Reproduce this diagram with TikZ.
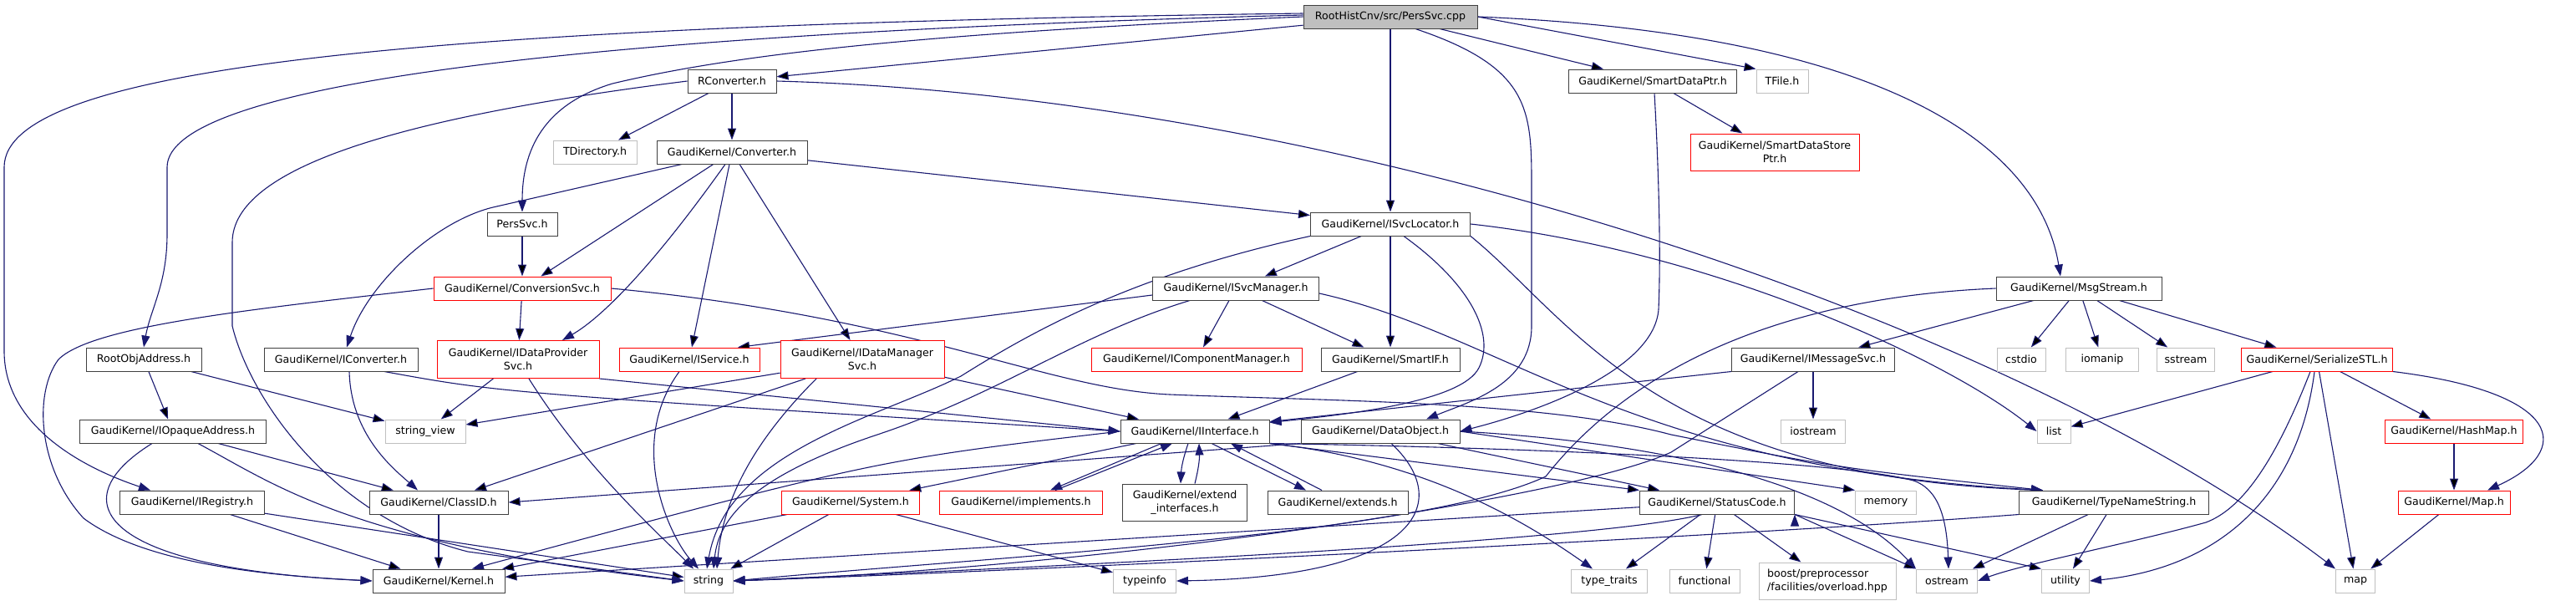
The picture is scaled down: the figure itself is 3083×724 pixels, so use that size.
\documentclass[tikz,border=0pt]{standalone}
\usepackage{fontspec}
\setmainfont{DejaVu Sans}
\usetikzlibrary{arrows.meta,backgrounds}
\definecolor{incblue}{HTML}{191970}
\definecolor{sysgray}{HTML}{BFBFBF}

\begin{document}
\begin{tikzpicture}[x=1pt, y=-1pt]
    \tikzstyle{inc_file}      = [shape = rectangle, draw = black!75, fill = white, line width=1pt, minimum height=28pt, inner sep=0pt, font=\fontsize{12.6}{16}\selectfont]
    \tikzstyle{inc_file__red} = [inc_file, draw = red]
    \tikzstyle{inc_sys}       = [inc_file, draw = sysgray]
    \tikzstyle{inc_root}      = [inc_file, fill = sysgray]
    \tikzstyle{inc_edge}      = [draw = incblue, line width=1.1pt, -{Triangle[length=14pt, width=10pt]}]

    \useasboundingbox (0,0) rectangle (3083,724);

    % row 1 and 2
    \node[inc_root, minimum width=208pt]      at (1664,  20) (n_root)    {RootHistCnv/src/PersSvc.cpp};
    \node[inc_file, minimum width=106pt]      at ( 876,  97) (n_rconv)   {RConverter.h};
    \node[inc_file, minimum width=201pt]      at (1978,  97) (n_sdptr)   {GaudiKernel/SmartDataPtr.h};
    \node[inc_sys,  minimum width=62pt]       at (2133,  97) (n_tfile)   {TFile.h};

    % row 3
    \node[inc_sys,  minimum width=100pt]      at ( 712, 182) (n_tdir)    {TDirectory.h};
    \node[inc_file, minimum width=180pt]      at ( 876, 182) (n_conv)    {GaudiKernel/Converter.h};
    \node[inc_file__red, minimum width=202pt, minimum height=44pt, align=center]
                                              at (2124, 182) (n_sdsptr)  {GaudiKernel/SmartDataStore\\Ptr.h};

    % row 4 and 5
    \node[inc_file, minimum width=84pt]       at ( 625, 268) (n_perssvc) {PersSvc.h};
    \node[inc_file, minimum width=191pt]      at (1664, 268) (n_isvcloc) {GaudiKernel/ISvcLocator.h};
    \node[inc_file__red, minimum width=212pt] at ( 625, 345) (n_convsvc) {GaudiKernel/ConversionSvc.h};
    \node[inc_file, minimum width=199pt]      at (1479, 345) (n_isvcmgr) {GaudiKernel/ISvcManager.h};
    \node[inc_file, minimum width=198pt]      at (2488, 345) (n_msgstr)  {GaudiKernel/MsgStream.h};

    % row 6
    \node[inc_file, minimum width=138pt]      at ( 172, 430) (n_rootobj) {RootObjAddress.h};
    \node[inc_file, minimum width=184pt]      at ( 408, 430) (n_iconv)   {GaudiKernel/IConverter.h};
    \node[inc_file__red, minimum width=194pt, minimum height=45pt, align=center]
                                              at ( 620, 430) (n_idprov)  {GaudiKernel/IDataProvider\\Svc.h};
    \node[inc_file__red, minimum width=168pt] at ( 825, 430) (n_iserv)   {GaudiKernel/IService.h};
    \node[inc_file__red, minimum width=196pt, minimum height=45pt, align=center]
                                              at (1032, 430) (n_idmgr)   {GaudiKernel/IDataManager\\Svc.h};
    \node[inc_file__red, minimum width=252pt] at (1432, 430) (n_icmgr)   {GaudiKernel/IComponentManager.h};
    \node[inc_file, minimum width=166pt]      at (1664, 430) (n_smartif) {GaudiKernel/SmartIF.h};
    \node[inc_file, minimum width=195pt]      at (2170, 430) (n_imsgsvc) {GaudiKernel/IMessageSvc.h};
    \node[inc_sys,  minimum width=58pt]       at (2419, 430) (n_cstdio)  {cstdio};
    \node[inc_sys,  minimum width=87pt]       at (2516, 430) (n_iomanip) {iomanip};
    \node[inc_sys,  minimum width=69pt]       at (2616, 430) (n_sstream) {sstream};
    \node[inc_file__red, minimum width=181pt] at (2773, 430) (n_sstl)    {GaudiKernel/SerializeSTL.h};

    % row 7
    \node[inc_file, minimum width=223pt]      at ( 207, 516) (n_iopaq)   {GaudiKernel/IOpaqueAddress.h};
    \node[inc_sys,  minimum width=96pt]       at ( 509, 516) (n_strview) {string\_view};
    \node[inc_file, minimum width=178pt]      at (1430, 516) (n_iint)    {GaudiKernel/IInterface.h};
    \node[inc_file, minimum width=190pt]      at (1652, 516) (n_dobj)    {GaudiKernel/DataObject.h};
    \node[inc_sys,  minimum width=77pt]       at (2170, 516) (n_iostream){iostream};
    \node[inc_sys,  minimum width=40pt]       at (2458, 516) (n_list)    {list};
    \node[inc_file__red, minimum width=165pt] at (2937, 516) (n_hashmap) {GaudiKernel/HashMap.h};

    % row 8
    \node[inc_file, minimum width=173pt]      at ( 230, 601) (n_ireg)    {GaudiKernel/IRegistry.h};
    \node[inc_file, minimum width=166pt]      at ( 525, 601) (n_classid) {GaudiKernel/ClassID.h};
    \node[inc_file__red, minimum width=165pt] at (1018, 601) (n_system)  {GaudiKernel/System.h};
    \node[inc_file__red, minimum width=195pt] at (1222, 601) (n_impl)    {GaudiKernel/implements.h};
    \node[inc_file, minimum width=149pt, minimum height=44pt, align=center]
                                              at (1418, 601) (n_extif)   {GaudiKernel/extend\\\_interfaces.h};
    \node[inc_file, minimum width=168pt]      at (1601, 601) (n_extends) {GaudiKernel/extends.h};
    \node[inc_file, minimum width=185pt]      at (2055, 601) (n_stcode)  {GaudiKernel/StatusCode.h};
    \node[inc_sys,  minimum width=73pt]       at (2257, 601) (n_memory)  {memory};
    \node[inc_file, minimum width=227pt]      at (2530, 601) (n_tnstr)   {GaudiKernel/TypeNameString.h};
    \node[inc_file__red, minimum width=134pt] at (2937, 601) (n_map_h)   {GaudiKernel/Map.h};

    % row 9
    \node[inc_file, minimum width=158pt]      at ( 525, 695) (n_kernel)  {GaudiKernel/Kernel.h};
    \node[inc_sys,  minimum width=58pt]       at ( 848, 695) (n_string)  {string};
    \node[inc_sys,  minimum width=75pt]       at (1370, 695) (n_typeinfo){typeinfo};
    \node[inc_sys,  minimum width=91pt]       at (1926, 695) (n_ttraits) {type\_traits};
    \node[inc_sys,  minimum width=84pt]       at (2040, 695) (n_functional) {functional};
    \node[inc_sys,  minimum width=164pt, minimum height=44pt, align=left]
                                              at (2187, 695) (n_boost)   {boost/preprocessor\\/facilities/overload.hpp};
    \node[inc_sys,  minimum width=73pt]       at (2330, 695) (n_ostream) {ostream};
    \node[inc_sys,  minimum width=57pt]       at (2472, 695) (n_utility) {utility};
    \node[inc_sys,  minimum width=47pt]       at (2819, 695) (n_map)     {map};

    \begin{scope}[on background layer]
    \draw[inc_edge]
      (n_root) edge (n_rconv)
      (n_root) edge (n_sdptr)
      (n_root.east) edge (n_tfile.north west)
      (n_root) edge (n_isvcloc)
      (n_rconv) edge (n_tdir)
      (n_rconv) edge (n_conv)
      (n_sdptr) edge (n_sdsptr)
      (n_conv) edge (n_convsvc)
      (n_conv) edge (n_isvcloc)
      (n_conv) edge (n_iserv)
      (n_conv) edge (n_idmgr)
      (n_perssvc) edge (n_convsvc)
      (n_convsvc) edge (n_idprov)
      (n_isvcloc) edge (n_isvcmgr)
      (n_isvcloc) edge (n_smartif)
      (n_isvcmgr) edge (n_icmgr)
      (n_isvcmgr) edge (n_smartif)
      ([yshift=-8pt]n_isvcmgr.west) edge ([xshift=58pt]n_iserv.north)
      (n_msgstr) edge (n_imsgsvc)
      (n_msgstr) edge (n_cstdio)
      (n_msgstr) edge (n_iomanip)
      (n_msgstr) edge (n_sstream)
      (n_msgstr) edge (n_sstl)
      (n_rootobj) edge (n_iopaq)
      (n_rootobj) edge (n_strview)
      (n_idprov) edge (n_strview)
      (n_idprov.south east) edge (n_iint.west)
      (n_idmgr) edge (n_strview)
      (n_idmgr) edge (n_classid)
      (n_idmgr) edge (n_iint)
      (n_smartif) edge (n_iint)
      (n_imsgsvc) edge (n_iostream)
      (n_imsgsvc.south west) edge ([yshift=-3pt]n_iint.north east)
      (n_sstl) edge (n_list)
      (n_sstl) edge (n_hashmap)
      (n_sstl) edge (n_map)
      (n_hashmap) edge (n_map_h)
      (n_map_h) edge (n_map)
      (n_iopaq) edge (n_classid)
      (n_iint) edge (n_system)
      (n_iint.south east) edge (n_stcode.north west)
      (n_dobj.south west) edge (n_classid.east)
      (n_dobj) edge (n_stcode)
      (n_dobj.east) edge (n_memory.north west)
      (n_ireg) edge (n_kernel)
      (n_ireg) edge (n_string)
      (n_classid) edge (n_kernel)
      (n_system) edge (n_kernel)
      (n_system) edge (n_string)
      (n_system) edge (n_typeinfo)
      (n_stcode) edge (n_kernel)
      (n_stcode) edge (n_ttraits)
      (n_stcode) edge (n_functional)
      (n_stcode) edge (n_boost)
      (n_stcode.south east) edge (n_ostream.north west)
      (n_stcode.south east) edge (n_utility.north west)
      (n_tnstr) edge (n_ostream)
      (n_tnstr) edge (n_utility)
    ;

    % interface family, both ways
    \draw[inc_edge] ([xshift=-40pt]n_iint.south) -- ([xshift=35pt]n_impl.north);
    \draw[inc_edge] ([xshift=41pt]n_impl.north) -- ([xshift=-27pt]n_iint.south);
    \draw[inc_edge] ([xshift=-8pt]n_iint.south) to[bend right=8] ([xshift=-5pt]n_extif.north);
    \draw[inc_edge] ([xshift=12pt]n_extif.north) to[bend right=8] ([xshift=5pt]n_iint.south);
    \draw[inc_edge] ([xshift=20pt]n_iint.south) -- ([xshift=-38pt]n_extends.north);
    \draw[inc_edge] ([xshift=-19pt]n_extends.north) -- ([xshift=43pt]n_iint.south);

    % long ones from the source file
    \draw[inc_edge] (n_root.east) .. controls (2250,40) and (2440,170) .. ([xshift=-22pt]n_msgstr.north);
    \draw[inc_edge] ([xshift=30pt]n_root.south) .. controls (1830,80) and (1833,130) .. (1833,220)
      -- (1833,390) .. controls (1833,460) and (1760,480) .. ([xshift=55pt]n_dobj.north);
    \draw[inc_edge] (n_root.west) .. controls (1100,40) and (880,65) .. (733,100)
      .. controls (650,125) and (625,180) .. (n_perssvc.north);
    \draw[inc_edge] ([yshift=2pt]n_root.west) .. controls (700,40) and (200,100) .. (200,200)
      -- (200,280) .. controls (200,340) and (180,370) .. (n_rootobj.north);
    \draw[inc_edge] ([yshift=4pt]n_root.west) .. controls (500,30) and (5,80) .. (5,200)
      -- (5,420) .. controls (5,510) and (100,560) .. ([xshift=-50pt]n_ireg.north);

    % RConverter.h and Converter.h
    \draw[inc_edge] (n_rconv.west) .. controls (480,140) and (278,200) .. (278,290)
      -- (278,390) .. controls (300,480) and (400,620) .. (560,660) -- (n_string.west);
    \draw[inc_edge] (n_rconv.east) .. controls (1600,115) and (2400,380) .. (n_map.north west);
    \draw[inc_edge] ([xshift=-60pt]n_conv.south) -- (590,248)
      .. controls (520,265) and (440,340) .. ([xshift=7pt]n_iconv.north);
    \draw[inc_edge] ([xshift=-8pt]n_conv.south) .. controls (780,320) and (720,380) .. ([xshift=53pt]n_idprov.north);

    % ConversionSvc.h, IConverter.h, IOpaqueAddress.h
    \draw[inc_edge] (n_convsvc.west) .. controls (300,370) and (110,390) .. (70,430)
      .. controls (40,470) and (45,560) .. (100,620) .. controls (180,680) and (350,690) .. (n_kernel.west);
    \draw[inc_edge] (n_convsvc.east) .. controls (1100,380) and (1250,465) .. (1400,472)
      .. controls (1600,480) and (1850,480) .. (2000,520) .. controls (2200,560) .. ([xshift=-85pt]n_tnstr.north);
    \draw[inc_edge] ([xshift=10pt]n_iconv.south) .. controls (420,520) and (470,560) .. ([xshift=-25pt]n_classid.north);
    \draw[inc_edge] ([xshift=52pt]n_iconv.south) .. controls (600,470) .. (n_iint.west);
    \draw[inc_edge] ([xshift=-25pt]n_iopaq.south) .. controls (70,600) and (120,680) .. (n_kernel.west);
    \draw[inc_edge] ([xshift=30pt]n_iopaq.south) .. controls (330,580) and (420,650) .. (n_string.west);

    % into string from above
    \draw[inc_edge] ([xshift=-12pt]n_iserv.south) .. controls (750,530) and (800,640) .. ([xshift=-12pt]n_string.north);
    \draw[inc_edge] ([xshift=13pt]n_idprov.south) .. controls (700,560) and (790,640) .. ([xshift=-18pt]n_string.north);
    \draw[inc_edge] ([xshift=-55pt]n_idmgr.south) .. controls (900,530) and (865,600) .. ([xshift=10pt]n_string.north);
    \draw[inc_edge] (n_isvcloc.south west) .. controls (1350,330) and (1230,400) .. (1150,450)
      .. controls (1050,500) and (870,540) .. ([xshift=-2pt]n_string.north);
    \draw[inc_edge] ([xshift=-55pt]n_isvcmgr.south) .. controls (1290,400) and (1200,470) .. (1050,520)
      .. controls (900,570) and (860,620) .. ([xshift=6pt]n_string.north);

    % into string from the right
    \draw[inc_edge] (n_msgstr.west) .. controls (2150,355) and (1960,430) .. (1850,570)
      .. controls (1700,640) and (1200,665) .. (n_string.east);
    \draw[inc_edge] ([xshift=-18pt]n_imsgsvc.south) -- (2000,541)
      .. controls (1870,600) and (1300,680) .. (n_string.east);
    \draw[inc_edge] ([xshift=-18pt]n_stcode.south) .. controls (1900,650) and (1200,680) .. (n_string.east);
    \draw[inc_edge] (n_tnstr.south west) .. controls (2100,640) and (1300,680) .. (n_string.east);

    % ISvcLocator.h, ISvcManager.h, SmartDataPtr.h
    \draw[inc_edge] ([xshift=16pt]n_isvcloc.south) .. controls (1760,340) and (1790,400) .. (1770,440)
      .. controls (1750,480) and (1620,495) .. ([yshift=-4pt]n_iint.north east);
    \draw[inc_edge] (n_isvcloc.east) .. controls (2050,300) and (2330,430) .. (n_list.west);
    \draw[inc_edge] (n_isvcloc.south east) .. controls (1880,380) and (1980,570) .. ([xshift=-85pt]n_tnstr.north);
    \draw[inc_edge] ([yshift=-6pt]n_isvcmgr.east) .. controls (1800,400) and (1950,560) .. ([xshift=-85pt]n_tnstr.north);
    \draw[inc_edge] ([xshift=2pt]n_sdptr.south) .. controls (1985,200) and (1988,300) .. (1985,370)
      .. controls (1980,440) and (1850,490) .. (n_dobj.east);

    % IInterface.h and DataObject.h
    \draw[inc_edge] (n_iint.west) .. controls (1050,550) .. ([xshift=40pt]n_kernel.north);
    \draw[inc_edge] (n_iint.south east) .. controls (1800,535) and (2200,550) .. (2290,575)
      .. controls (2320,585) and (2330,620) .. ([xshift=2pt]n_ostream.north);
    \draw[inc_edge] (n_iint.south east) .. controls (1700,550) and (1820,620) .. ([xshift=-20pt]n_ttraits.north);
    \draw[inc_edge] (n_dobj.east) .. controls (2000,530) and (2200,580) .. (n_ostream.north west);
    \draw[inc_edge] ([xshift=13pt]n_dobj.south) .. controls (1740,600) and (1700,690) .. (n_typeinfo.east);

    % SerializeSTL.h
    \draw[inc_edge] ([xshift=-3pt]n_sstl.south) .. controls (2750,600) and (2650,680) .. (n_utility.east);
    \draw[inc_edge] ([xshift=-8pt]n_sstl.south) .. controls (2720,560) and (2680,610) .. (2640,625)
      .. controls (2550,650) and (2420,675) .. (n_ostream.east);
    \draw[inc_edge] (n_sstl.south east) .. controls (3070,470) and (3080,540) .. ([xshift=40pt]n_map_h.north);
    \end{scope}
\end{tikzpicture}
\end{document}
